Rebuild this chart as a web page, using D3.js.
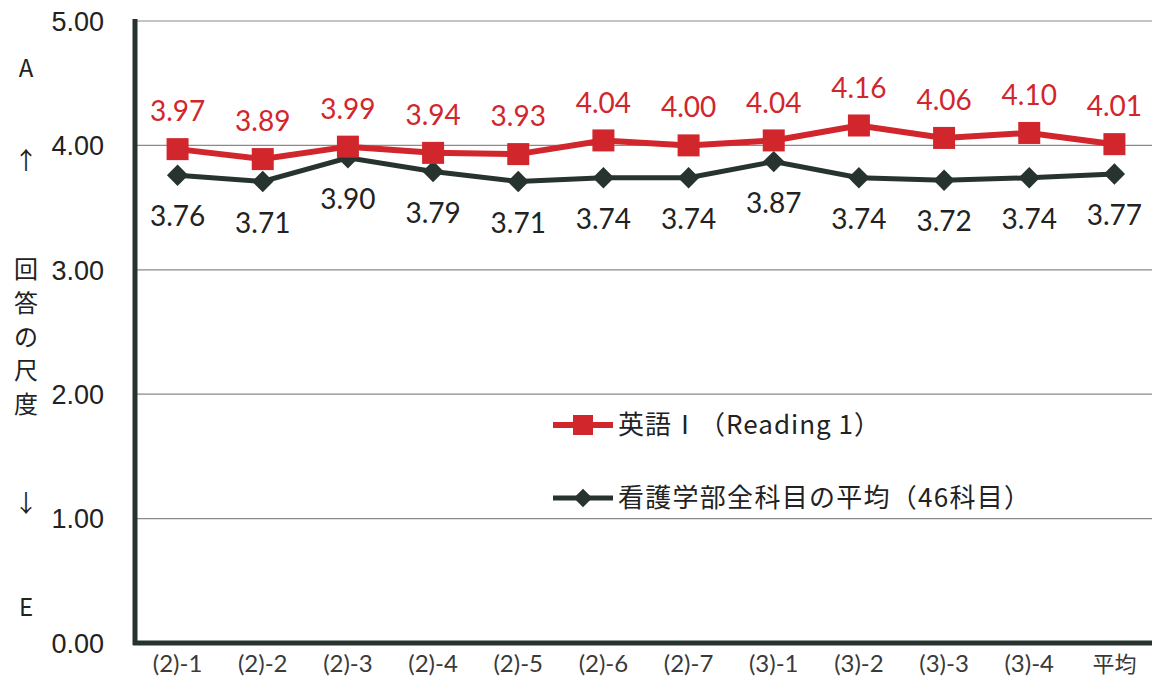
<!DOCTYPE html>
<html>
<head>
<meta charset="utf-8">
<script src="https://cdn.jsdelivr.net/npm/d3@7"></script>
<style>
  body { margin: 0; background: #fff; }
  svg { display: block; }
</style>
</head>
<body>
<div id="chart"></div>
<script>
// data
const categories = ['(2)-1', '(2)-2', '(2)-3', '(2)-4', '(2)-5', '(2)-6', '(2)-7', '(3)-1', '(3)-2', '(3)-3', '(3)-4', '平均'];
const englishValues = [3.97, 3.89, 3.99, 3.94, 3.93, 4.04, 4.00, 4.04, 4.16, 4.06, 4.10, 4.01];
const facultyValues = [3.76, 3.71, 3.90, 3.79, 3.71, 3.74, 3.74, 3.87, 3.74, 3.72, 3.74, 3.77];
const yTicks = [0, 1, 2, 3, 4, 5];
const seriesNames = ['英語Ⅰ（Reading 1）', '看護学部全科目の平均（46科目）'];
const sideLabels = [
  { text: 'A', v: 4.62 }, { text: '↑', v: 3.88 },
  { text: '回', v: 3.0 }, { text: '答', v: 2.73 }, { text: 'の', v: 2.46 },
  { text: '尺', v: 2.19 }, { text: '度', v: 1.92 },
  { text: '↓', v: 1.12 }, { text: 'E', v: 0.29 }
];

const width = 1152, height = 693;
const red = '#d1262c', dark = '#27332e';
const numFont = '"Lato", "Liberation Sans", sans-serif';
const cjkFont = '"Noto Sans CJK JP", sans-serif';

const svg = d3.select('#chart').append('svg')
  .attr('width', width).attr('height', height);

const x = d3.scaleBand().domain(categories).range([135, 1157]);
const y = d3.scaleLinear().domain([0, 5]).range([643, 21]);
const cx = d => x(d) + x.bandwidth() / 2;

// gridlines
svg.append('g').selectAll('line')
  .data(yTicks.filter(t => t > 0))
  .enter().append('line')
    .attr('x1', 135).attr('x2', width)
    .attr('y1', d => y(d)).attr('y2', d => y(d))
    .attr('stroke', '#8a8a8a').attr('stroke-width', 1.2);

// y tick labels
svg.append('g').selectAll('text')
  .data(yTicks)
  .enter().append('text')
    .attr('x', 104).attr('y', d => y(d))
    .attr('dy', '0.36em')
    .attr('text-anchor', 'end')
    .attr('font-family', '"Liberation Sans", Arial, sans-serif')
    .attr('font-size', 27)
    .attr('fill', '#222')
    .text(d => d.toFixed(2));

// side scale text
svg.append('g').selectAll('text')
  .data(sideLabels)
  .enter().append('text')
    .attr('x', 26).attr('y', d => y(d.v))
    .attr('dy', '0.36em')
    .attr('text-anchor', 'middle')
    .attr('font-family', cjkFont)
    .attr('font-size', 24)
    .attr('fill', '#222')
    .text(d => d.text);

// axes
svg.append('line')
  .attr('x1', 135).attr('x2', 135).attr('y1', 19).attr('y2', 645)
  .attr('stroke', dark).attr('stroke-width', 5);
svg.append('line')
  .attr('x1', 133).attr('x2', width).attr('y1', 643).attr('y2', 643)
  .attr('stroke', dark).attr('stroke-width', 5);

// x labels
svg.append('g').selectAll('text')
  .data(categories)
  .enter().append('text')
    .attr('x', d => cx(d)).attr('y', 672)
    .attr('text-anchor', 'middle')
    .attr('font-family', d => d === '平均' ? cjkFont : numFont)
    .attr('font-size', d => d === '平均' ? 22 : 24)
    .attr('fill', '#3a3a3a')
    .text(d => d);

const line = d3.line().x(d => cx(d.c)).y(d => y(d.v));
const englishData = categories.map((c, i) => ({ c, v: englishValues[i] }));
const facultyData = categories.map((c, i) => ({ c, v: facultyValues[i] }));

// faculty average line (dark)
svg.append('path').datum(facultyData)
  .attr('d', line).attr('fill', 'none')
  .attr('stroke', dark).attr('stroke-width', 5);
svg.append('g').selectAll('path')
  .data(facultyData)
  .enter().append('path')
    .attr('d', d3.symbol().type(d3.symbolDiamond2).size(290))
    .attr('transform', d => 'translate(' + cx(d.c) + ',' + y(d.v) + ')')
    .attr('fill', dark);

// english line (red)
svg.append('path').datum(englishData)
  .attr('d', line).attr('fill', 'none')
  .attr('stroke', red).attr('stroke-width', 6);
svg.append('g').selectAll('rect')
  .data(englishData)
  .enter().append('rect')
    .attr('x', d => cx(d.c) - 11).attr('y', d => y(d.v) - 11)
    .attr('width', 22).attr('height', 22)
    .attr('fill', red);

// value labels
svg.append('g').selectAll('text')
  .data(englishData)
  .enter().append('text')
    .attr('x', d => cx(d.c)).attr('y', d => y(d.v) - 38)
    .attr('dy', '0.36em')
    .attr('text-anchor', 'middle')
    .attr('font-family', numFont)
    .attr('font-size', 28)
    .attr('fill', red)
    .text(d => d.v.toFixed(2));
svg.append('g').selectAll('text')
  .data(facultyData)
  .enter().append('text')
    .attr('x', d => cx(d.c)).attr('y', d => y(d.v) + 41)
    .attr('dy', '0.36em')
    .attr('text-anchor', 'middle')
    .attr('font-family', numFont)
    .attr('font-size', 28)
    .attr('fill', '#222')
    .text(d => d.v.toFixed(2));

// legend
const legend = svg.append('g').attr('transform', 'translate(553,0)');
const legendRows = [
  { name: seriesNames[0], color: red, ly: 425, marker: 'square', len: 262 },
  { name: seriesNames[1], color: dark, ly: 498, marker: 'diamond', len: 412 }
];
legendRows.forEach(r => {
  legend.append('line')
    .attr('x1', 0).attr('x2', 60).attr('y1', r.ly).attr('y2', r.ly)
    .attr('stroke', r.color).attr('stroke-width', r.marker === 'square' ? 6 : 5);
  if (r.marker === 'square') {
    legend.append('rect').attr('x', 20).attr('y', r.ly - 10)
      .attr('width', 20).attr('height', 20).attr('fill', r.color);
  } else {
    legend.append('path')
      .attr('d', d3.symbol().type(d3.symbolDiamond2).size(220))
      .attr('transform', 'translate(30,' + r.ly + ')')
      .attr('fill', r.color);
  }
  legend.append('text')
    .attr('x', 65).attr('y', r.ly).attr('dy', '0.36em')
    .attr('font-family', cjkFont)
    .attr('font-size', 26)
    .attr('fill', '#222')
    .attr('textLength', r.len)
    .attr('lengthAdjust', 'spacing')
    .text(r.name);
});
</script>
</body>
</html>
